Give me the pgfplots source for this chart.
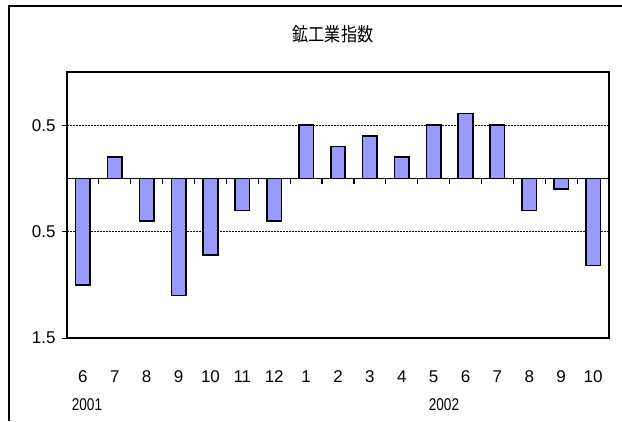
\documentclass[border=0pt]{standalone}
\usepackage{fontspec}
\setmainfont{Liberation Sans}
\newfontfamily\cjk{Noto Sans CJK JP}
\usepackage{pgfplots}
\pgfplotsset{compat=1.18}
\definecolor{barblue}{HTML}{9999FF}
\begin{document}
\begin{tikzpicture}
\useasboundingbox (-67pt,-83pt) rectangle (555pt,338pt);
\draw[line width=1.8pt] (-58pt,-83pt) -- (-58pt,332pt) -- (555pt,332pt);
\begin{axis}[
  at={(0pt,0pt)}, anchor=south west,
  scale only axis, width=542pt, height=266pt,
  xmin=-0.5, xmax=16.5, ymin=-1.5, ymax=1.0,
  ytick={-1.5,-0.5,0.5}, yticklabels={1.5,0.5,0.5},
  xtick={0,...,16}, xticklabels={6,7,8,9,10,11,12,1,2,3,4,5,6,7,8,9,10},
  xtick style={draw=none},
  ytick pos=left, tick align=outside, major tick length=5pt,
  ytick style={line width=1pt, black},
  ymajorgrids, grid style={black, line width=0.7pt, dash pattern=on 2pt off 1pt},
  axis line style={line width=1.6pt},
  ticklabel style={font=\fontsize{17}{17}\selectfont},
  xticklabel style={anchor=center, yshift=-34pt},
  yticklabel style={anchor=east, xshift=-3pt},
  clip=false,
]
\addplot[ybar, bar width=14.5pt, fill=barblue, draw=black, line width=1.6pt] coordinates {
(0,-1.0) (1,0.2) (2,-0.4) (3,-1.1) (4,-0.72) (5,-0.3) (6,-0.4) (7,0.5) (8,0.3)
(9,0.4) (10,0.2) (11,0.5) (12,0.61) (13,0.5) (14,-0.3) (15,-0.1) (16,-0.82)
};
\draw[line width=1.6pt] (axis cs:-0.5,0) -- (axis cs:16.5,0);
\pgfplotsinvokeforeach{0.5,1.5,...,15.5}{\draw[line width=1.2pt] (axis cs:#1,0) -- ++(0pt,-6pt);}
\end{axis}
\node at (20pt,-67pt) {\fontsize{17}{17}\selectfont\scalebox{0.8}[1]{2001}};
\node at (377pt,-67pt) {\fontsize{17}{17}\selectfont\scalebox{0.8}[1]{2002}};
\node at (266pt,304pt) {\cjk\fontsize{19}{19}\selectfont\scalebox{0.85}[1]{鉱工業指数}};
\end{tikzpicture}
\end{document}
